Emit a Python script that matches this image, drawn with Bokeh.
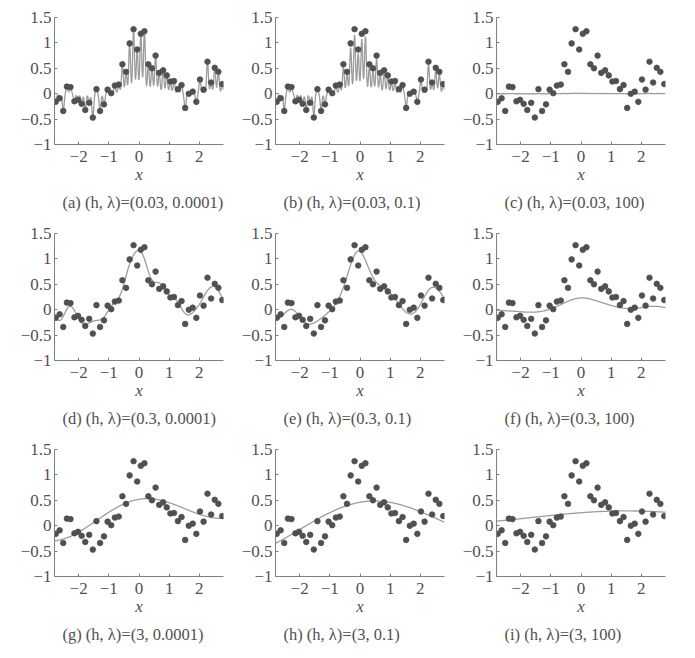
import numpy as np
from bokeh.plotting import figure
from bokeh.layouts import gridplot
from bokeh.models import FixedTicker, Title, Range1d
from bokeh.embed import file_html
from bokeh.resources import INLINE

# ---- data ----
x_data = [-2.76, -2.63, -2.51, -2.39, -2.27, -2.14, -2.02, -1.90, -1.78, -1.65,
          -1.53, -1.41, -1.29, -1.16, -1.04, -0.92, -0.80, -0.67, -0.55, -0.43,
          -0.31, -0.18, -0.06, 0.06, 0.18, 0.31, 0.43, 0.55, 0.67, 0.80,
          0.92, 1.04, 1.16, 1.29, 1.41, 1.53, 1.65, 1.78, 1.90, 2.02,
          2.14, 2.27, 2.39, 2.51, 2.63, 2.76]
y_data = [-0.16, -0.09, -0.34, 0.14, 0.13, -0.15, -0.12, -0.20, -0.32, -0.18,
          -0.47, 0.09, -0.34, -0.21, 0.08, 0.01, 0.16, 0.18, 0.58, 0.43,
          0.99, 1.27, 0.87, 1.18, 1.23, 0.58, 0.50, 0.75, 0.41, 0.46,
          0.36, 0.24, 0.25, 0.09, 0.17, -0.28, 0.00, 0.04, -0.16, 0.28,
          0.08, 0.63, 0.22, 0.51, 0.43, 0.19]

panel_letters = ["a", "b", "c", "d", "e", "f", "g", "h", "i"]
h_values = [0.03, 0.03, 0.03, 0.3, 0.3, 0.3, 3, 3, 3]
lam_values = [0.0001, 0.1, 100, 0.0001, 0.1, 100, 0.0001, 0.1, 100]
h_labels = ["0.03", "0.03", "0.03", "0.3", "0.3", "0.3", "3", "3", "3"]
lam_labels = ["0.0001", "0.1", "100", "0.0001", "0.1", "100", "0.0001", "0.1", "100"]

x_ticks = [-2, -1, 0, 1, 2]
x_tick_labels = ["\u22122", "\u22121", "0", "1", "2"]
y_ticks = [-1, -0.5, 0, 0.5, 1, 1.5]
y_tick_labels = ["\u22121", "\u22120.5", "0", "0.5", "1", "1.5"]

SERIF = "'Liberation Serif', 'DejaVu Serif', serif"
DOT = "#505050"
CURVE = "#9c9c9c"
AXIS = "#808080"
TEXT = "#505050"


def kernel_fit(h, lam):
    X = np.array(x_data)
    Y = np.array(y_data)
    K = np.exp(-(X[:, None] - X[None, :]) ** 2 / (2 * h * h))
    theta = np.linalg.solve(K @ K + lam * np.eye(len(X)), K @ Y)
    xs = np.linspace(-2.8, 2.8, 2400)
    F = np.exp(-(xs[:, None] - X[None, :]) ** 2 / (2 * h * h)) @ theta
    return xs, F


figs = []
for k in range(9):
    col = k % 3
    left = 54 if col == 0 else 50
    width = 225 if col == 0 else 221
    p = figure(width=width, height=216, output_backend="svg", toolbar_location=None,
               x_range=Range1d(-2.8, 2.8), y_range=Range1d(-1, 1.5),
               min_border_left=left, min_border_right=2,
               min_border_top=17, min_border_bottom=72)
    p.outline_line_color = None
    p.xgrid.visible = False
    p.ygrid.visible = False
    p.background_fill_color = None
    p.border_fill_color = None

    xs, F = kernel_fit(h_values[k], lam_values[k])
    p.line(xs, F, line_color=CURVE, line_width=1.3)
    p.scatter(x_data, y_data, size=5.6, fill_color=DOT, line_color=DOT, line_width=0.8)

    for ax in (p.xaxis[0], p.yaxis[0]):
        ax.axis_line_color = AXIS
        ax.major_tick_line_color = AXIS
        ax.major_tick_in = 3
        ax.major_tick_out = 0
        ax.minor_tick_line_color = None
        ax.major_label_text_font = SERIF
        ax.major_label_text_font_size = "17px"
        ax.major_label_text_color = TEXT
    p.xaxis.major_label_standoff = 6
    p.yaxis.major_label_standoff = 3
    p.xaxis.ticker = FixedTicker(ticks=x_ticks)
    p.xaxis.major_label_overrides = dict(zip(x_ticks, x_tick_labels))
    p.yaxis.ticker = FixedTicker(ticks=y_ticks)
    p.yaxis.major_label_overrides = dict(zip(y_ticks, y_tick_labels))
    p.xaxis.axis_label = "x"
    p.xaxis.axis_label_text_font = SERIF
    p.xaxis.axis_label_text_font_style = "italic"
    p.xaxis.axis_label_text_font_size = "17px"
    p.xaxis.axis_label_text_color = TEXT
    p.xaxis.axis_label_standoff = 0

    cap = "(%s) (h, \u03bb)=(%s, %s)" % (panel_letters[k], h_labels[k], lam_labels[k])
    p.add_layout(Title(text=cap, align="left", offset=8, text_font=SERIF,
                       text_font_style="normal", text_font_size="16.5px",
                       text_color=TEXT, standoff=8), "below")
    figs.append(p)

grid = gridplot([figs[0:3], figs[3:6], figs[6:9]], toolbar_location=None)
open("out.html", "w").write(file_html(grid, INLINE))
